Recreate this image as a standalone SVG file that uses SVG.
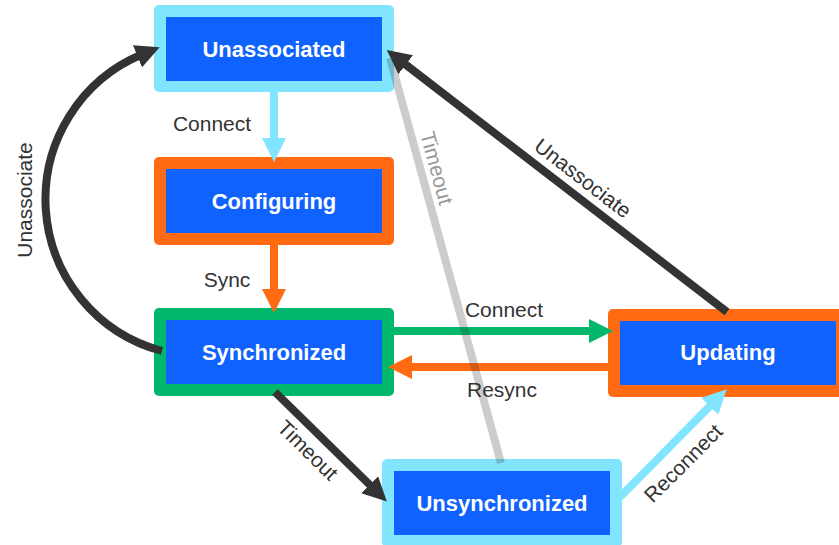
<svg xmlns="http://www.w3.org/2000/svg" width="839" height="545" viewBox="0 0 839 545">
  <defs>
    <style>
      .frame-cyan { fill: #82e5ff; }
      .frame-orange { fill: #ff6a13; }
      .frame-green { fill: #00b86b; }
      .core { fill: #0f62fe; }
      .title { font-family: "Liberation Sans", Arial, sans-serif; font-weight: bold; font-size: 22px; fill: #ffffff; text-anchor: middle; }
      .label { font-family: "Liberation Sans", Arial, sans-serif; font-size: 21px; fill: #333333; text-anchor: middle; }
      .label-muted { fill: #999999; }
      .edge { fill: none; stroke-width: 8; stroke-linecap: butt; }
    </style>
    <marker id="head-dark" viewBox="0 0 24 24" markerUnits="userSpaceOnUse" markerWidth="24" markerHeight="24" refX="6" refY="12" orient="auto">
      <path d="M0,0 L24,12 L0,24 z" fill="#333333"/>
    </marker>
    <marker id="head-cyan" viewBox="0 0 24 24" markerUnits="userSpaceOnUse" markerWidth="24" markerHeight="24" refX="6" refY="12" orient="auto">
      <path d="M0,0 L24,12 L0,24 z" fill="#82e5ff"/>
    </marker>
    <marker id="head-orange" viewBox="0 0 24 24" markerUnits="userSpaceOnUse" markerWidth="24" markerHeight="24" refX="6" refY="12" orient="auto">
      <path d="M0,0 L24,12 L0,24 z" fill="#ff6a13"/>
    </marker>
    <marker id="head-green" viewBox="0 0 24 24" markerUnits="userSpaceOnUse" markerWidth="24" markerHeight="24" refX="6" refY="12" orient="auto">
      <path d="M0,0 L24,12 L0,24 z" fill="#00b86b"/>
    </marker>
  </defs>

  <rect width="839" height="545" fill="#ffffff"/>

  <!-- state nodes -->
  <g id="unassociated">
    <rect class="frame-cyan" x="154" y="5" width="240" height="87" rx="5"/>
    <rect class="core" x="166" y="17" width="216" height="64"/>
    <text class="title" x="274" y="57">Unassociated</text>
  </g>
  <g id="configuring">
    <rect class="frame-orange" x="154" y="157" width="240" height="88" rx="5"/>
    <rect class="core" x="166" y="169" width="216" height="64"/>
    <text class="title" x="274" y="209">Configuring</text>
  </g>
  <g id="synchronized">
    <rect class="frame-green" x="154" y="308" width="240" height="88" rx="5"/>
    <rect class="core" x="166" y="320" width="216" height="64"/>
    <text class="title" x="274" y="360">Synchronized</text>
  </g>
  <g id="updating">
    <rect class="frame-orange" x="608" y="309" width="240" height="88" rx="5"/>
    <rect class="core" x="620" y="321" width="216" height="64"/>
    <text class="title" x="728" y="360">Updating</text>
  </g>
  <g id="unsynchronized">
    <rect class="frame-cyan" x="382" y="459" width="240" height="88" rx="5"/>
    <rect class="core" x="394" y="471" width="216" height="64"/>
    <text class="title" x="502" y="511">Unsynchronized</text>
  </g>

  <!-- transitions -->
  <g id="connectors">
    <path class="edge" stroke="#82e5ff" d="M274,92 L274,144" marker-end="url(#head-cyan)"/>
    <path class="edge" stroke="#ff6a13" d="M274,245 L274,295" marker-end="url(#head-orange)"/>
    <path class="edge" stroke="#00b86b" d="M394,331 L595,331" marker-end="url(#head-green)"/>
    <path class="edge" stroke="#ff6a13" d="M608,367 L406,367" marker-end="url(#head-orange)"/>
    <path class="edge" stroke="#333333" d="M162,351 A157,157 0 0 1 143,54" marker-end="url(#head-dark)"/>
    <path class="edge" stroke="#333333" d="M727,312 L401,61" marker-end="url(#head-dark)"/>
    <path class="edge" stroke="#333333" d="M275,392 L374,489" marker-end="url(#head-dark)"/>
    <path class="edge" stroke="#82e5ff" d="M620,497 L714,402" marker-end="url(#head-cyan)"/>
    <path class="edge" stroke="#333333" stroke-opacity="0.25" d="M501,463 L390,58"/>

    <text class="label" x="212" y="131">Connect</text>
    <text class="label" x="227" y="287">Sync</text>
    <text class="label" x="504" y="317">Connect</text>
    <text class="label" x="502" y="397">Resync</text>
    <text class="label" transform="translate(24,200) rotate(-90)" y="7.5">Unassociate</text>
    <text class="label label-muted" transform="translate(437,168) rotate(74.8)" y="7.5">Timeout</text>
    <text class="label" transform="translate(583,178) rotate(37.6)" y="7.5">Unassociate</text>
    <text class="label" transform="translate(308,450) rotate(44.5)" y="7.5">Timeout</text>
    <text class="label" transform="translate(683,463) rotate(-45)" y="7.5">Reconnect</text>
  </g>
</svg>
